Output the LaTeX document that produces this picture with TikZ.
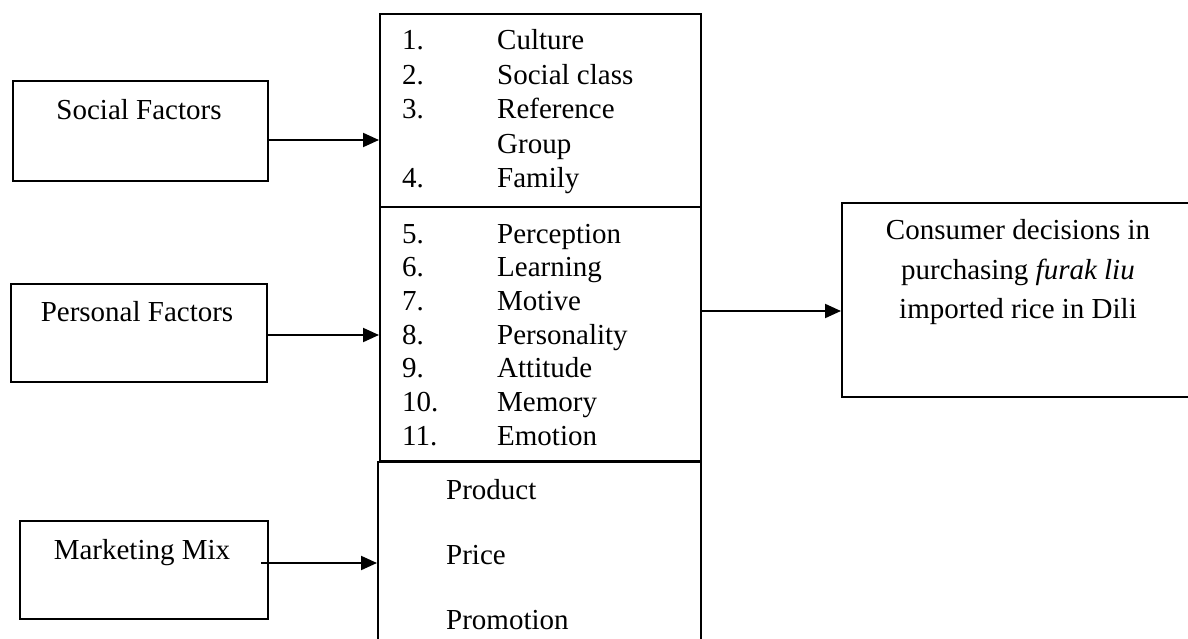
\documentclass[tikz,border=0pt]{standalone}
\usepackage{fontspec}
\setmainfont{Liberation Serif}
\usetikzlibrary{arrows.meta}
\begin{document}
\begin{tikzpicture}[x=1pt,y=-1pt,
  box/.style={draw,line width=2pt,rectangle,inner sep=0pt,anchor=north west},
  txt/.style={font=\fontsize{29}{34.5}\selectfont,inner sep=0pt},
  arr/.style={line width=2pt,-{Triangle[length=16pt,width=14pt]}}]
\useasboundingbox (0,0) rectangle (1188,639);
\clip (0,0) rectangle (1188,639);
% left boxes
\node[box,minimum width=255pt,minimum height=100pt] (social) at (12,80) {};
\node[box,minimum width=256pt,minimum height=98pt] (personal) at (10,283) {};
\node[box,minimum width=248pt,minimum height=98pt] (marketing) at (19,520) {};
\node[txt,anchor=base] (tsocial) at (139,120) {Social Factors};
\node[txt,anchor=base] (tpersonal) at (137,321) {Personal Factors};
\node[txt,anchor=base] (tmarketing) at (142,559) {Marketing Mix};
% middle boxes
\node[box,minimum width=321pt,minimum height=193pt] (topbox) at (379,13) {};
\node[box,minimum width=321pt,minimum height=254pt] (midbox) at (379,206) {};
\node[box,minimum width=323pt,minimum height=200pt] (botbox) at (377,461) {};
% top list
\node[txt,anchor=base west] (n1) at (402,50) {1.};
\node[txt,anchor=base west] (i1) at (497,50) {Culture};
\node[txt,anchor=base west] (n2) at (402,84.5) {2.};
\node[txt,anchor=base west] (i2) at (497,84.5) {Social class};
\node[txt,anchor=base west] (n3) at (402,119) {3.};
\node[txt,anchor=base west] (i3) at (497,119) {Reference};
\node[txt,anchor=base west] (i3b) at (497,153.5) {Group};
\node[txt,anchor=base west] (n4) at (402,188) {4.};
\node[txt,anchor=base west] (i4) at (497,188) {Family};
% middle list
\node[txt,anchor=base west] (n5) at (402,243) {5.};
\node[txt,anchor=base west] (i5) at (497,243) {Perception};
\node[txt,anchor=base west] (n6) at (402,276.7) {6.};
\node[txt,anchor=base west] (i6) at (497,276.7) {Learning};
\node[txt,anchor=base west] (n7) at (402,310.3) {7.};
\node[txt,anchor=base west] (i7) at (497,310.3) {Motive};
\node[txt,anchor=base west] (n8) at (402,344) {8.};
\node[txt,anchor=base west] (i8) at (497,344) {Personality};
\node[txt,anchor=base west] (n9) at (402,377.7) {9.};
\node[txt,anchor=base west] (i9) at (497,377.7) {Attitude};
\node[txt,anchor=base west] (n10) at (402,411.3) {10.};
\node[txt,anchor=base west] (i10) at (497,411.3) {Memory};
\node[txt,anchor=base west] (n11) at (402,445) {11.};
\node[txt,anchor=base west] (i11) at (497,445) {Emotion};
% bottom list
\node[txt,anchor=base west] (p1) at (446,499) {Product};
\node[txt,anchor=base west] (p2) at (446,564) {Price};
\node[txt,anchor=base west] (p3) at (446,629) {Promotion};
% consumer box
\node[box,minimum width=360pt,minimum height=194pt] (consumer) at (841,202) {};
\node[txt,anchor=base] (c1) at (1018,240) {Consumer decisions in};
\node[txt,anchor=base] (c2) at (1018,279) {purchasing \textit{furak liu}};
\node[txt,anchor=base] (c3) at (1018,318) {imported rice in Dili};
% arrows
\coordinate (ya) at (0,140);
\coordinate (yb) at (0,335);
\coordinate (yc) at (0,563);
\coordinate (yd) at (0,311);
\coordinate (ms) at (261,563);
\draw[arr] (social.east |- ya) -- (topbox.west |- ya);
\draw[arr] (personal.east |- yb) -- (midbox.west |- yb);
\draw[arr] (ms) -- (botbox.west |- yc);
\draw[arr] (midbox.east |- yd) -- (consumer.west |- yd);
\end{tikzpicture}
\end{document}
